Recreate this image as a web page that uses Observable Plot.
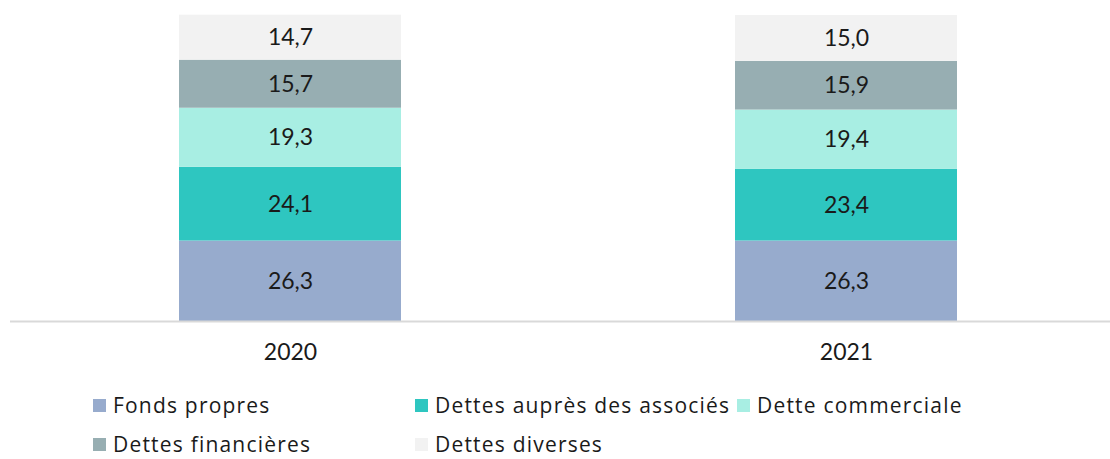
<!DOCTYPE html>
<html>
<head>
<meta charset="utf-8">
<script src="https://cdn.jsdelivr.net/npm/d3@7"></script>
<script src="https://cdn.jsdelivr.net/npm/@observablehq/plot@0.6"></script>
<style>
  body { margin: 0; background: #fff; font-family: Lato, "Noto Sans", sans-serif; color: #1a1a1a; overflow: hidden; }
  #legend { padding: 15px 0 0 93px; width: 980px; display: flex; flex-wrap: wrap; row-gap: 19px; font-family: "Open Sans", "Noto Sans", sans-serif; }
  .item { width: 322px; height: 20px; display: flex; align-items: center; font-size: 21px; line-height: 20px; white-space: nowrap; letter-spacing: 1.2px; }
  .sw { width: 13px; height: 13px; margin-right: 7px; flex: none; }
</style>
</head>
<body>
<div id="chart"></div>
<div id="legend"></div>
<script>
const years = ["2020", "2021"];
const series = ["Fonds propres", "Dettes auprès des associés", "Dette commerciale", "Dettes financières", "Dettes diverses"];
const colors = ["#97ABCD", "#2EC6C0", "#A8EEE3", "#97AEB2", "#F2F2F2"];
const values2020 = [26.3, 24.1, 19.3, 15.7, 14.7];
const values2021 = [26.3, 23.4, 19.4, 15.9, 15.0];

const data = [];
series.forEach((s, i) => {
  data.push({year: years[0], series: s, value: values2020[i]});
  data.push({year: years[1], series: s, value: values2021[i]});
});
const fmt = v => d3.format(".1f")(v).replace(".", ",");

const chart = Plot.plot({
  width: 1110,
  height: 380,
  marginLeft: 10,
  marginRight: 0,
  marginTop: 15,
  marginBottom: 59,
  style: {fontFamily: "Lato, 'Noto Sans', sans-serif", color: "#1a1a1a", background: "#fff"},
  x: {domain: years, range: [178, 957], paddingInner: 0.6014, paddingOuter: 0, label: null},
  y: {domain: [0, 100], axis: null},
  color: {domain: series, range: colors},
  marks: [
    Plot.barY(data, {x: "year", y: "value", fill: "series", z: "series"}),
    Plot.text(data, Plot.stackY({x: "year", y: "value", z: "series", text: d => fmt(d.value), fontSize: 23, fill: "#1a1a1a"})),
    Plot.ruleY([0], {stroke: "#d9d9d9", strokeWidth: 2}),
    Plot.axisX({tickSize: 0, tickPadding: 22, fontSize: 23, label: null, fill: "#1a1a1a"})
  ]
});
document.getElementById("chart").appendChild(chart);

const legend = document.getElementById("legend");
series.forEach((s, i) => {
  const item = document.createElement("div");
  item.className = "item";
  const sw = document.createElement("span");
  sw.className = "sw";
  sw.style.background = colors[i];
  const t = document.createElement("span");
  t.textContent = s;
  item.appendChild(sw);
  item.appendChild(t);
  legend.appendChild(item);
});
</script>
</body>
</html>
